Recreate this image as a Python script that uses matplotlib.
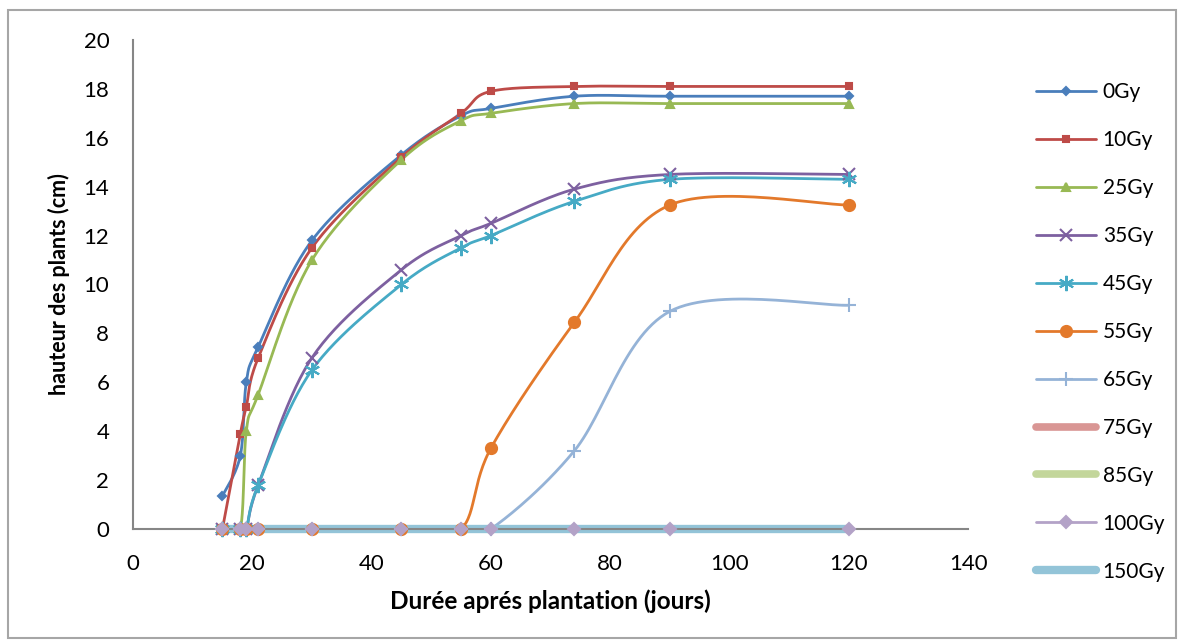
"""Hauteur des plants selon la dose d'irradiation (style Excel, lignes lissées)."""

import numpy as np
import matplotlib
matplotlib.use("Agg")
import matplotlib.pyplot as plt
from matplotlib.patches import Rectangle

plt.rcParams["font.family"] = ["Lato", "DejaVu Sans"]

days = [15, 18, 19, 21, 30, 45, 55, 60, 74, 90, 120]

h_0gy = [1.35, 3.0, 6.0, 7.45, 11.8, 15.3, 16.9, 17.2, 17.7, 17.7, 17.7]
h_10gy = [0, 3.9, 5.0, 7.0, 11.5, 15.2, 17.0, 17.9, 18.1, 18.1, 18.1]
h_25gy = [0, 0, 4.0, 5.5, 11.0, 15.1, 16.7, 17.0, 17.4, 17.4, 17.4]
h_35gy = [0, 0, 0, 1.8, 7.0, 10.6, 12.0, 12.5, 13.9, 14.5, 14.5]
h_45gy = [0, 0, 0, 1.8, 6.5, 10.0, 11.5, 12.0, 13.4, 14.3, 14.3]
h_55gy = [0, 0, 0, 0, 0, 0, 0, 3.3, 8.45, 13.25, 13.25]
h_65gy = [0, 0, 0, 0, 0, 0, 0, 0, 3.2, 8.9, 9.15]
h_75gy = [0] * 11
h_85gy = [0] * 11
h_100gy = [0] * 11
h_150gy = [0] * 11

labels = ["0Gy", "10Gy", "25Gy", "35Gy", "45Gy", "55Gy", "65Gy",
          "75Gy", "85Gy", "100Gy", "150Gy"]
series = [h_0gy, h_10gy, h_25gy, h_35gy, h_45gy, h_55gy, h_65gy,
          h_75gy, h_85gy, h_100gy, h_150gy]

# color, marker, marker size, line width
styles = [
    ("#4A7EBB", "D", 4.5, 2.0),
    ("#BE4B48", "s", 4.0, 2.0),
    ("#98B954", "^", 5.5, 2.0),
    ("#7D60A0", "x", 9.0, 2.0),
    ("#46AAC5", (6, 2, 0), 11.0, 2.0),
    ("#E3792B", "o", 8.0, 2.0),
    ("#95B3D7", "+", 10.0, 2.0),
    ("#D99694", None, 0, 5.5),
    ("#C3D69B", None, 0, 5.5),
    ("#B3A2C7", "D", 6.5, 2.0),
    ("#93C4D8", None, 0, 6.0),
]


def smooth(x, y, steps=30):
    """Excel-like smoothed curve (cubic Bezier through the points)."""
    p = np.column_stack([x, y]).astype(float)
    ext = np.vstack([p[0], p, p[-1]])
    out = []
    t = np.linspace(0, 1, steps)[:, None]
    for i in range(len(p) - 1):
        p0, p1 = ext[i + 1], ext[i + 2]
        c1 = p0 + (ext[i + 2] - ext[i]) / 6
        c2 = p1 - (ext[i + 3] - ext[i + 1]) / 6
        seg = ((1 - t) ** 3) * p0 + 3 * ((1 - t) ** 2) * t * c1 \
            + 3 * (1 - t) * t ** 2 * c2 + t ** 3 * p1
        out.append(seg)
    out = np.vstack(out)
    # keep the curve from dipping under the baseline
    return out[:, 0], np.maximum(out[:, 1], min(y))


fig = plt.figure(figsize=(11.84, 6.44), dpi=100)
ax = fig.add_axes([0.1123, 0.1786, 0.7053, 0.7593])

handles = []
for vals, lab, (color, marker, ms, lw) in zip(series, labels, styles):
    sx, sy = smooth(days, vals)
    ax.plot(sx, sy, color=color, lw=lw, solid_capstyle="round", zorder=2,
            clip_on=False)
    if marker is not None:
        ax.plot(days, vals, ls="none", marker=marker, ms=ms, color=color,
                mec=color, mew=1.5, zorder=3, clip_on=False)
    (h,) = ax.plot([], [], color=color, lw=lw, marker=marker, ms=ms,
                   mec=color, mew=1.5, solid_capstyle="round")
    handles.append(h)

ax.set_xlim(0, 140)
ax.set_ylim(0, 20)
ax.set_xticks(np.arange(0, 141, 20))
ax.set_yticks(np.arange(0, 21, 2))
ax.tick_params(length=0, labelsize=16)
ax.tick_params(axis="y", pad=17)
ax.tick_params(axis="x", pad=18)
for s in ["top", "right"]:
    ax.spines[s].set_visible(False)
for s in ["left", "bottom"]:
    ax.spines[s].set_color("#868686")
    ax.spines[s].set_linewidth(1.5)
ax.set_xlabel("Durée aprés plantation (jours)", fontsize=17.5,
              fontweight="bold", labelpad=11)
ax.set_ylabel("hauteur des plants (cm)", fontsize=15.5,
              fontweight="bold", labelpad=10)

fig.legend(handles, labels, loc="upper left", bbox_to_anchor=(0.868, 0.885),
           frameon=False, fontsize=15, labelspacing=1.34, handlelength=2.9,
           handletextpad=0.3, borderaxespad=0)

fig.patches.append(Rectangle((8 / 1184, 6 / 644), 1168 / 1184, 628 / 644,
                             transform=fig.transFigure, fill=False,
                             edgecolor="#A6A6A6", lw=1.5))

fig.savefig("out.png", dpi=100)
